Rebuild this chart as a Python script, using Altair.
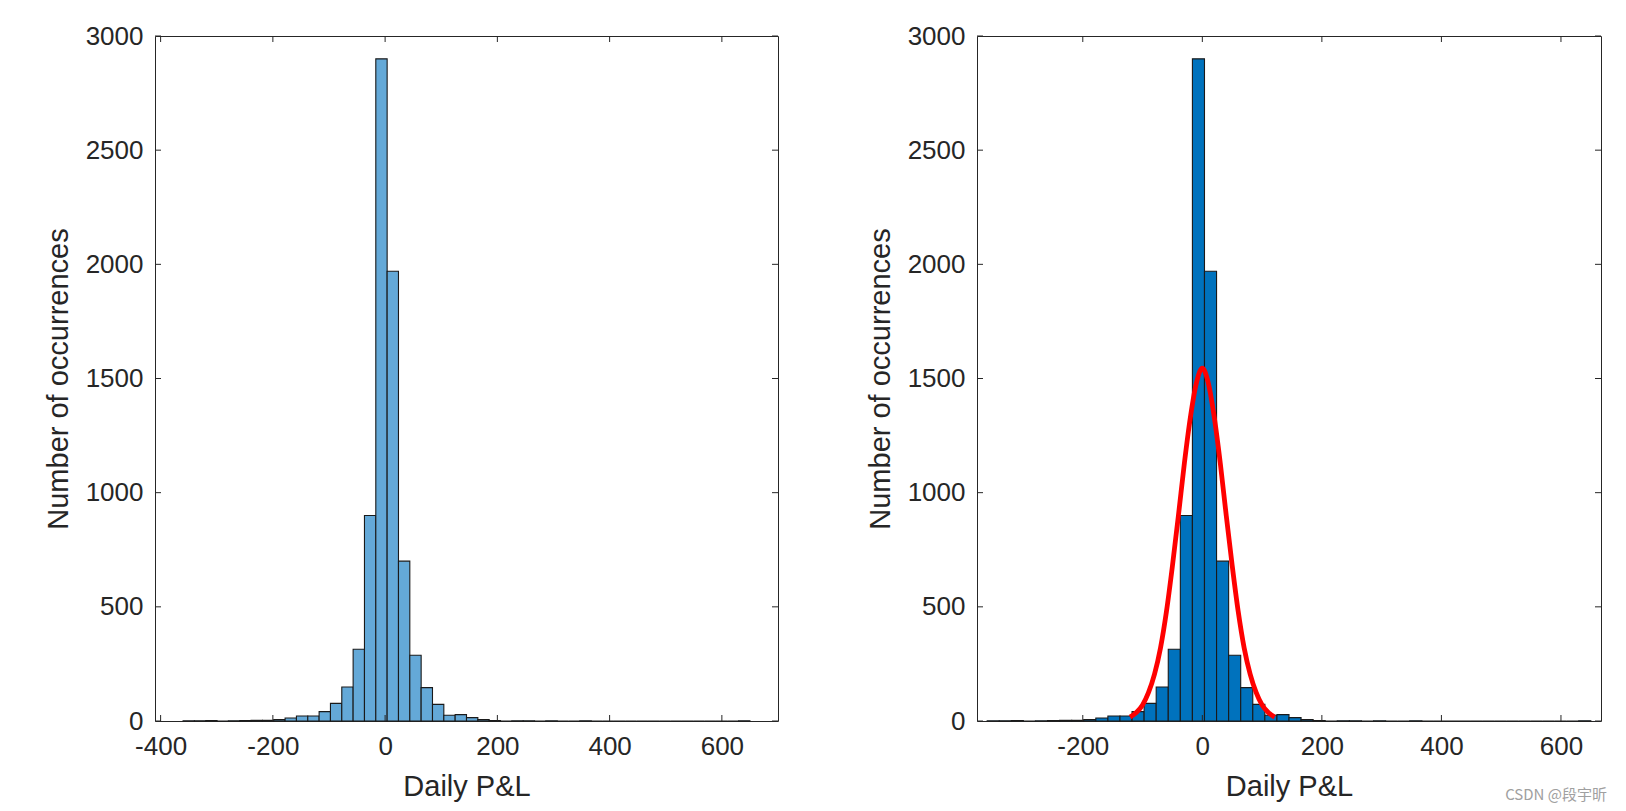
import altair as alt
import pandas as pd

# ---- data ----
BIN_START = -360.0
BIN_WIDTH = 20.2
COUNTS = [1, 1, 2, 0, 1, 2, 3, 3,
          6, 13, 22, 22, 41, 77, 149, 314,
          900, 2900, 1970, 700,
          288, 146, 73, 25, 28, 15, 6, 2,
          0, 1, 1, 0, 1, 0, 0, 1,
          0, 0, 0, 0, 0, 0, 0, 0, 0, 0, 0, 0, 0, 1]

FIT_X = [-121, -110, -100, -90, -80, -70, -60, -50, -40, -30, -20, -10, 0,
         10, 20, 30, 40, 50, 60, 70, 80, 90, 100, 110, 121]
FIT_Y = [17, 38, 70, 125, 205, 320, 480, 680, 900, 1130, 1330, 1480, 1545,
         1480, 1330, 1130, 900, 680, 480, 320, 205, 125, 70, 38, 17]

Y_TICKS = [0, 500, 1000, 1500, 2000, 2500, 3000]
X_TICKS_LEFT = [-400, -200, 0, 200, 400, 600]
X_TICKS_RIGHT = [-200, 0, 200, 400, 600]
X_DOMAIN_LEFT = [-410, 700]
X_DOMAIN_RIGHT = [-377, 667]
Y_DOMAIN = [0, 3000]

X_TITLE = "Daily P&L"
Y_TITLE = "Number of occurrences"
WATERMARK = "CSDN @段宇昕"

# ---- styles ----
W_L, W_R, H = 623, 624, 685
TICK_LEN = 6
AX_COLOR = "#262626"
FONT = "Liberation Sans"
LABEL_EXPR = "'' + datum.value"

bins = pd.DataFrame({
    "start": [BIN_START + i * BIN_WIDTH for i in range(len(COUNTS))],
    "end": [BIN_START + (i + 1) * BIN_WIDTH for i in range(len(COUNTS))],
    "count": COUNTS,
})
fit = pd.DataFrame({"x": FIT_X, "y": FIT_Y})
yt = pd.DataFrame({"v": Y_TICKS})


def panel(width, xdomain, xticks, fill, with_fit):
    xs = alt.Scale(domain=xdomain, nice=False, zero=False)
    ys = alt.Scale(domain=Y_DOMAIN, nice=False, zero=True)
    xaxis = alt.Axis(values=xticks, domain=False, ticks=False, grid=False,
                     labelExpr=LABEL_EXPR, labelPadding=12, titlePadding=13,
                     title=X_TITLE)
    yaxis = alt.Axis(values=Y_TICKS, domain=False, ticks=False, grid=False,
                     labelExpr=LABEL_EXPR, labelPadding=12, titlePadding=12,
                     title=Y_TITLE)
    bars = alt.Chart(bins).mark_bar(fill=fill, stroke="#1a1a1a", strokeWidth=1.1,
                                    opacity=1).encode(
        x=alt.X("start:Q", scale=xs, axis=xaxis),
        x2="end:Q",
        y=alt.Y("count:Q", scale=ys, axis=yaxis),
        y2=alt.datum(0),
    )
    xt = pd.DataFrame({"v": xticks})
    tb = alt.Chart(xt).mark_rule(color=AX_COLOR, strokeWidth=1).encode(
        x=alt.X("v:Q", scale=xs, axis=xaxis), y=alt.value(H), y2=alt.value(H - TICK_LEN))
    tt = alt.Chart(xt).mark_rule(color=AX_COLOR, strokeWidth=1).encode(
        x=alt.X("v:Q", scale=xs, axis=xaxis), y=alt.value(0), y2=alt.value(TICK_LEN))
    tl = alt.Chart(yt).mark_rule(color=AX_COLOR, strokeWidth=1).encode(
        y=alt.Y("v:Q", scale=ys, axis=yaxis), x=alt.value(0), x2=alt.value(TICK_LEN))
    tr = alt.Chart(yt).mark_rule(color=AX_COLOR, strokeWidth=1).encode(
        y=alt.Y("v:Q", scale=ys, axis=yaxis), x=alt.value(width), x2=alt.value(width - TICK_LEN))
    layers = [bars]
    if with_fit:
        line = alt.Chart(fit).mark_line(color="#ff0000", strokeWidth=4.8,
                                        interpolate="monotone").encode(
            x=alt.X("x:Q", scale=xs, axis=xaxis),
            y=alt.Y("y:Q", scale=ys, axis=yaxis),
        )
        layers.append(line)
    layers += [tb, tt, tl, tr]
    if with_fit:
        wm = alt.Chart(pd.DataFrame({"t": [WATERMARK]})).mark_text(
            align="right", baseline="middle", fontSize=15, color="#a0a0a0",
            font="Noto Sans CJK SC").encode(
            text="t:N", x=alt.value(width + 6), y=alt.value(H + 74))
        layers.append(wm)
    return alt.layer(*layers).properties(width=width, height=H)


left = panel(W_L, X_DOMAIN_LEFT, X_TICKS_LEFT, "#64a9d8", False)
right = panel(W_R, X_DOMAIN_RIGHT, X_TICKS_RIGHT, "#0072bd", True)

chart = alt.hconcat(left, right, spacing=86).properties(
    padding={"left": 35, "top": 14, "right": 5, "bottom": 5},
    background="white",
).configure_view(stroke=AX_COLOR, strokeWidth=1).configure_axis(
    labelFont=FONT, titleFont=FONT, labelFontSize=26, titleFontSize=29,
    labelColor=AX_COLOR, titleColor=AX_COLOR, titleFontWeight="normal",
)

chart.save("out.html", embed_options={"renderer": "svg", "actions": False})
